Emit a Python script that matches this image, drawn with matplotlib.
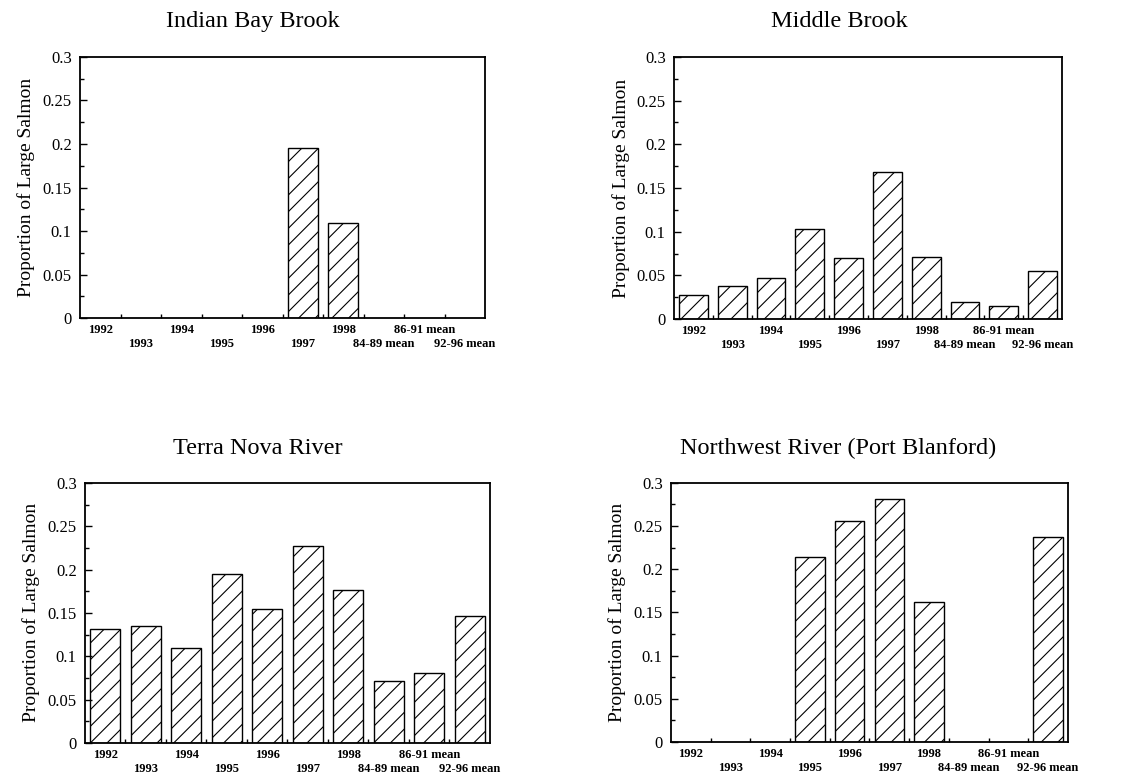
import numpy as np
import matplotlib
matplotlib.use("Agg")
import matplotlib.pyplot as plt
from matplotlib.ticker import MultipleLocator, FixedLocator

plt.rcParams["font.family"] = ["Liberation Serif", "DejaVu Serif"]
plt.rcParams["hatch.linewidth"] = 0.8

# Categories (years plus the long-term means)
categories = ["1992", "1993", "1994", "1995", "1996", "1997", "1998",
              "84-89 mean", "86-91 mean", "92-96 mean"]

# Proportion of large salmon per river (nan = no data)
indian_bay = [np.nan, np.nan, np.nan, np.nan, np.nan, 0.196, 0.109,
              np.nan, np.nan, np.nan]
middle_brook = [0.027, 0.038, 0.047, 0.103, 0.070, 0.168, 0.071,
                0.019, 0.015, 0.055]
terra_nova = [0.132, 0.135, 0.109, 0.195, 0.155, 0.227, 0.177,
              0.071, 0.081, 0.147]
northwest = [np.nan, np.nan, np.nan, 0.214, 0.256, 0.281, 0.162,
             np.nan, np.nan, 0.237]

panels = [
    ("Indian Bay Brook", indian_bay, [0.0708, 0.592, 0.3585, 0.335], (0.224, 0.972)),
    ("Middle Brook", middle_brook, [0.5965, 0.591, 0.3433, 0.336], (0.743, 0.972)),
    ("Terra Nova River", terra_nova, [0.0752, 0.0474, 0.3584, 0.3336], (0.228, 0.425)),
    ("Northwest River (Port Blanford)", northwest, [0.5938, 0.0487, 0.3513, 0.3323], (0.742, 0.425)),
]

fig = plt.figure(figsize=(11.3, 7.8), dpi=100)

for title, values, rect, tpos in panels:
    ax = fig.add_axes(rect)
    x = np.arange(len(categories))
    ax.bar(x, values, width=0.74, color="white", edgecolor="black",
           linewidth=1.0, hatch="//")
    ax.set_xlim(-0.5, len(categories) - 0.5)
    ax.set_ylim(0, 0.3)

    # x labels on two staggered rows
    ax.set_xticks(x)
    ax.set_xticklabels(categories, fontsize=9, fontweight="bold")
    ax.tick_params(axis="x", which="major", length=0, pad=4)
    for i, t in enumerate(ax.xaxis.get_major_ticks()):
        if i % 2 == 1:
            t.set_pad(14.5)
    ax.xaxis.set_minor_locator(FixedLocator(np.arange(0.5, len(categories) - 0.5, 1)))
    ax.tick_params(axis="x", which="minor", direction="in", length=3, width=1)

    yt = [0, 0.05, 0.1, 0.15, 0.2, 0.25, 0.3]
    ax.set_yticks(yt)
    ax.set_yticklabels(["0", "0.05", "0.1", "0.15", "0.2", "0.25", "0.3"], fontsize=12)
    ax.yaxis.set_minor_locator(MultipleLocator(0.025))
    ax.tick_params(axis="y", which="major", direction="in", length=5, width=1, pad=6)
    ax.tick_params(axis="y", which="minor", direction="in", length=3, width=1)

    for s in ax.spines.values():
        s.set_linewidth(1.3)

    ax.set_ylabel("Proportion of Large Salmon", fontsize=14, labelpad=5)
    fig.text(tpos[0], tpos[1], title, ha="center", va="center", fontsize=17.5)

fig.savefig("out.png", dpi=100)
